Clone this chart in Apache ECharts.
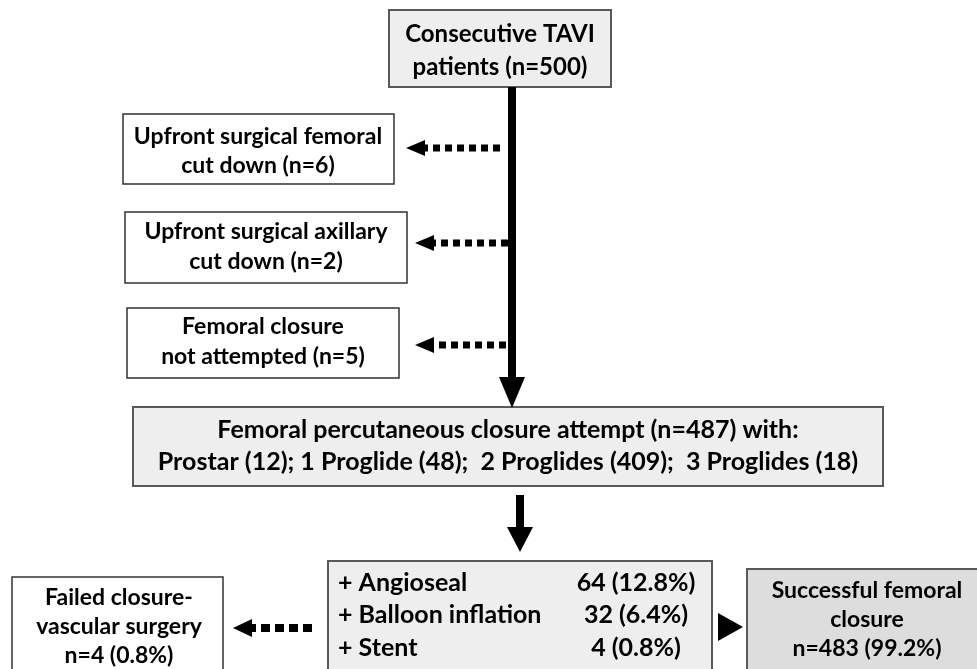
<!DOCTYPE html>
<html>
<head>
<meta charset="utf-8">
<script src="https://cdn.jsdelivr.net/npm/echarts@6/dist/echarts.min.js"></script>
<style>
html, body { margin: 0; padding: 0; background: #fff; }
#container { width: 977px; height: 669px; }
</style>
</head>
<body>
<div id="container"></div>
<script>
// study numbers
var totalPatients = 500;
var excludedNames = ['Upfront surgical femoral\ncut down', 'Upfront surgical axillary\ncut down', 'Femoral closure\nnot attempted'];
var excludedCounts = [6, 2, 5];
var closureAttempts = 487;
var deviceNames = ['Prostar', '1 Proglide', '2 Proglides', '3 Proglides'];
var deviceCounts = [12, 48, 409, 18];
var bailoutNames = ['+ Angioseal', '+ Balloon inflation', '+ Stent'];
var bailoutCounts = [64, 32, 4];
var bailoutPct = [12.8, 6.4, 0.8];
var failedCount = 4;
var failedPct = 0.8;
var successCount = 483;
var successPct = 99.2;

// texts built from the numbers
var deviceLine = deviceNames.map(function (d, i) {
    return d + ' (' + deviceCounts[i] + ')';
});
var mainText = 'Femoral percutaneous closure attempt (n=' + closureAttempts + ') with:\n' +
    deviceLine[0] + '; ' + deviceLine[1] + ';  ' + deviceLine[2] + ';  ' + deviceLine[3];

// layout (pixel space of the hidden axes)
var grayBox = { fill: '#eeeeee', stroke: '#595959', lw: 2 };
var whiteBox = { fill: '#ffffff', stroke: '#333333', lw: 1.5 };

var boxes = [
    { x: 389, y: 10, w: 222, h: 77, st: grayBox, tx: 500, ty: 51, lh: 33, fs: 24,
      text: 'Consecutive TAVI\npatients (n=' + totalPatients + ')' },
    { x: 123, y: 114, w: 271, h: 70, st: whiteBox, tx: 258, ty: 151, lh: 29, fs: 23,
      text: excludedNames[0] + ' (n=' + excludedCounts[0] + ')' },
    { x: 125, y: 212, w: 282, h: 71, st: whiteBox, tx: 266, ty: 247, lh: 30, fs: 23,
      text: excludedNames[1] + ' (n=' + excludedCounts[1] + ')' },
    { x: 127, y: 308, w: 272, h: 70, st: whiteBox, tx: 263, ty: 342, lh: 30, fs: 23,
      text: excludedNames[2] + ' (n=' + excludedCounts[2] + ')' },
    { x: 133, y: 407, w: 750, h: 79, st: grayBox, tx: 508, ty: 446, lh: 32, fs: 25,
      text: mainText },
    { x: 328, y: 561, w: 384, h: 130, st: grayBox, tx: 338, ty: 0, lh: 0, fs: 25,
      text: '' },
    { x: 12, y: 577, w: 211, h: 110, st: whiteBox, tx: 119, ty: 627, lh: 29, fs: 23,
      text: 'Failed closure-\nvascular surgery\nn=' + failedCount + ' (' + failedPct + '%)' },
    { x: 747, y: 569, w: 250, h: 120, st: { fill: '#dddddd', stroke: '#595959', lw: 2 }, tx: 867, ty: 620, lh: 29, fs: 23,
      text: 'Successful femoral\nclosure\nn=' + successCount + ' (' + successPct + '%)' }
];
var bailoutRowY = [583, 615, 648];

// arrows, tip at "to"
var arrows = [
    { from: [512, 87], to: [512, 408], w: 8, headL: 31, headW: 26, dash: null },
    { from: [500, 148], to: [406, 148], w: 7, headL: 19, headW: 16, dash: [7, 5] },
    { from: [508, 243], to: [415, 243], w: 7, headL: 19, headW: 16, dash: [7, 5] },
    { from: [506, 345], to: [415, 345], w: 7, headL: 19, headW: 16, dash: [7, 5] },
    { from: [520, 495], to: [520, 552], w: 8, headL: 25, headW: 26, dash: null },
    { from: [312, 628], to: [233, 628], w: 8, headL: 19, headW: 18, dash: [9, 5] },
    { from: [718, 627], to: [743, 627], w: 0, headL: 25, headW: 28, dash: null }
];

var dom = document.getElementById('container');
var myChart = echarts.init(dom);

function font(size) {
    return 'bold ' + size + 'px Lato';
}

function renderBox(params, api) {
    var b = boxes[params.dataIndex];
    var p = api.coord([b.x, b.y]);
    var q = api.coord([b.x + b.w, b.y + b.h]);
    var children = [{
        type: 'rect',
        shape: { x: p[0], y: p[1], width: q[0] - p[0], height: q[1] - p[1] },
        style: { fill: b.st.fill, stroke: b.st.stroke, lineWidth: b.st.lw }
    }];
    if (b.text) {
        var t = api.coord([b.tx, b.ty]);
        children.push({
            type: 'text',
            style: {
                text: b.text, x: t[0], y: t[1], fill: '#000',
                font: font(b.fs), align: 'center', verticalAlign: 'middle', lineHeight: b.lh
            }
        });
    } else {
        // bail-out table
        bailoutNames.forEach(function (name, i) {
            var a = api.coord([338, bailoutRowY[i]]);
            var c = api.coord([636, bailoutRowY[i]]);
            children.push({
                type: 'text',
                style: { text: name, x: a[0], y: a[1], fill: '#000', font: font(b.fs), align: 'left', verticalAlign: 'middle' }
            });
            children.push({
                type: 'text',
                style: { text: bailoutCounts[i] + ' (' + bailoutPct[i] + '%)', x: c[0], y: c[1], fill: '#000', font: font(b.fs), align: 'center', verticalAlign: 'middle' }
            });
        });
    }
    return { type: 'group', children: children };
}

function renderArrow(params, api) {
    var a = arrows[params.dataIndex];
    var s = api.coord(a.from);
    var e = api.coord(a.to);
    var dx = e[0] - s[0], dy = e[1] - s[1];
    var len = Math.sqrt(dx * dx + dy * dy);
    var ux = dx / len, uy = dy / len;
    var bx = e[0] - ux * a.headL, by = e[1] - uy * a.headL;
    var nx = -uy, ny = ux;
    var children = [];
    if (a.w > 0) {
        children.push({
            type: 'line',
            shape: { x1: s[0], y1: s[1], x2: bx + ux, y2: by + uy },
            style: { stroke: '#000', lineWidth: a.w, lineDash: a.dash, lineCap: 'butt' }
        });
    }
    children.push({
        type: 'polygon',
        shape: { points: [[e[0], e[1]], [bx + nx * a.headW / 2, by + ny * a.headW / 2], [bx - nx * a.headW / 2, by - ny * a.headW / 2]] },
        style: { fill: '#000' }
    });
    return { type: 'group', children: children };
}

var option = {
    animation: false,
    backgroundColor: '#ffffff',
    grid: { left: 0, right: 0, top: 0, bottom: 0 },
    xAxis: { type: 'value', min: 0, max: 977, show: false },
    yAxis: { type: 'value', min: 0, max: 669, inverse: true, show: false },
    series: [
        {
            name: 'boxes',
            type: 'custom',
            renderItem: renderBox,
            data: boxes.map(function (b) { return [b.x, b.y]; }),
            silent: true
        },
        {
            name: 'arrows',
            type: 'custom',
            renderItem: renderArrow,
            data: arrows.map(function (a) { return a.from; }),
            silent: true
        }
    ]
};
myChart.setOption(option);
</script>
</body>
</html>
